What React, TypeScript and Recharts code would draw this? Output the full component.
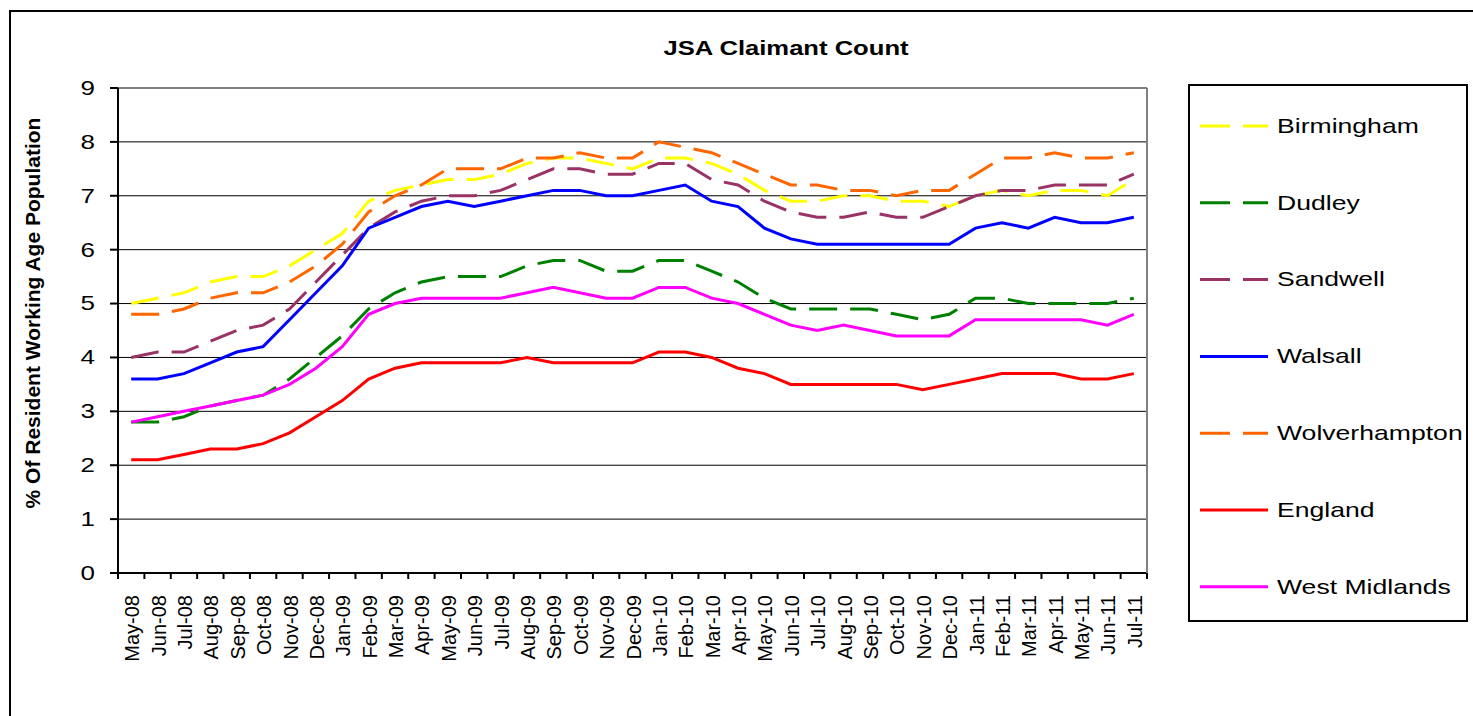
import { LineChart, Line, XAxis, YAxis, CartesianGrid } from 'recharts';

const months = [
  'May-08', 'Jun-08', 'Jul-08', 'Aug-08', 'Sep-08', 'Oct-08', 'Nov-08', 'Dec-08',
  'Jan-09', 'Feb-09', 'Mar-09', 'Apr-09', 'May-09', 'Jun-09', 'Jul-09', 'Aug-09',
  'Sep-09', 'Oct-09', 'Nov-09', 'Dec-09', 'Jan-10', 'Feb-10', 'Mar-10', 'Apr-10',
  'May-10', 'Jun-10', 'Jul-10', 'Aug-10', 'Sep-10', 'Oct-10', 'Nov-10', 'Dec-10',
  'Jan-11', 'Feb-11', 'Mar-11', 'Apr-11', 'May-11', 'Jun-11', 'Jul-11',
];

const birmingham = [5.0, 5.1, 5.2, 5.4, 5.5, 5.5, 5.7, 6.0, 6.3, 6.9, 7.1, 7.2, 7.3, 7.3, 7.4, 7.6, 7.7, 7.7, 7.6, 7.5, 7.7, 7.7, 7.6, 7.4, 7.1, 6.9, 6.9, 7.0, 7.0, 6.9, 6.9, 6.8, 7.0, 7.1, 7.0, 7.1, 7.1, 7.0, 7.3];
const dudley = [2.8, 2.8, 2.9, 3.1, 3.2, 3.3, 3.6, 4.0, 4.4, 4.9, 5.2, 5.4, 5.5, 5.5, 5.5, 5.7, 5.8, 5.8, 5.6, 5.6, 5.8, 5.8, 5.6, 5.4, 5.1, 4.9, 4.9, 4.9, 4.9, 4.8, 4.7, 4.8, 5.1, 5.1, 5.0, 5.0, 5.0, 5.0, 5.1];
const sandwell = [4.0, 4.1, 4.1, 4.3, 4.5, 4.6, 4.9, 5.4, 5.9, 6.4, 6.7, 6.9, 7.0, 7.0, 7.1, 7.3, 7.5, 7.5, 7.4, 7.4, 7.6, 7.6, 7.3, 7.2, 6.9, 6.7, 6.6, 6.6, 6.7, 6.6, 6.6, 6.8, 7.0, 7.1, 7.1, 7.2, 7.2, 7.2, 7.4];
const walsall = [3.6, 3.6, 3.7, 3.9, 4.1, 4.2, 4.7, 5.2, 5.7, 6.4, 6.6, 6.8, 6.9, 6.8, 6.9, 7.0, 7.1, 7.1, 7.0, 7.0, 7.1, 7.2, 6.9, 6.8, 6.4, 6.2, 6.1, 6.1, 6.1, 6.1, 6.1, 6.1, 6.4, 6.5, 6.4, 6.6, 6.5, 6.5, 6.6];
const wolverhampton = [4.8, 4.8, 4.9, 5.1, 5.2, 5.2, 5.4, 5.7, 6.1, 6.7, 7.0, 7.2, 7.5, 7.5, 7.5, 7.7, 7.7, 7.8, 7.7, 7.7, 8.0, 7.9, 7.8, 7.6, 7.4, 7.2, 7.2, 7.1, 7.1, 7.0, 7.1, 7.1, 7.4, 7.7, 7.7, 7.8, 7.7, 7.7, 7.8];
const england = [2.1, 2.1, 2.2, 2.3, 2.3, 2.4, 2.6, 2.9, 3.2, 3.6, 3.8, 3.9, 3.9, 3.9, 3.9, 4.0, 3.9, 3.9, 3.9, 3.9, 4.1, 4.1, 4.0, 3.8, 3.7, 3.5, 3.5, 3.5, 3.5, 3.5, 3.4, 3.5, 3.6, 3.7, 3.7, 3.7, 3.6, 3.6, 3.7];
const westMidlands = [2.8, 2.9, 3.0, 3.1, 3.2, 3.3, 3.5, 3.8, 4.2, 4.8, 5.0, 5.1, 5.1, 5.1, 5.1, 5.2, 5.3, 5.2, 5.1, 5.1, 5.3, 5.3, 5.1, 5.0, 4.8, 4.6, 4.5, 4.6, 4.5, 4.4, 4.4, 4.4, 4.7, 4.7, 4.7, 4.7, 4.7, 4.6, 4.8];

const yTicks = [0, 1, 2, 3, 4, 5, 6, 7, 8, 9];

const series = [
  { name: 'Birmingham', values: birmingham, color: '#FFFF00', dashed: true },
  { name: 'Dudley', values: dudley, color: '#008000', dashed: true },
  { name: 'Sandwell', values: sandwell, color: '#993366', dashed: true },
  { name: 'Walsall', values: walsall, color: '#0000FF', dashed: false },
  { name: 'Wolverhampton', values: wolverhampton, color: '#FF6600', dashed: true },
  { name: 'England', values: england, color: '#FF0000', dashed: false },
  { name: 'West Midlands', values: westMidlands, color: '#FF00FF', dashed: false },
];

const data = months.map((month, i) => {
  const row: Record<string, string | number> = { month };
  series.forEach((s) => {
    row[s.name] = s.values[i];
  });
  return row;
});

// layout (px)
const W = 1473;
const H = 716;
const PLOT_LEFT = 118;
const PLOT_TOP = 88;
const PLOT_RIGHT = 1147;
const PLOT_BOTTOM = 573;
const HALF_BAND = (PLOT_RIGHT - PLOT_LEFT) / months.length / 2;
const FONT = 'Arial, "Liberation Sans", sans-serif';
const DASH = '28 13';

const XTick = (props: any) => {
  const { x, payload, index } = props;
  return (
    <g>
      <line x1={x - HALF_BAND} x2={x - HALF_BAND} y1={PLOT_BOTTOM} y2={PLOT_BOTTOM + 6} stroke="#000" strokeWidth={2} />
      {index === months.length - 1 && (
        <line x1={x + HALF_BAND} x2={x + HALF_BAND} y1={PLOT_BOTTOM} y2={PLOT_BOTTOM + 6} stroke="#000" strokeWidth={2} />
      )}
      <text
        transform={`translate(${x + 1},${PLOT_BOTTOM + 22}) rotate(-90)`}
        textAnchor="end"
        dominantBaseline="central"
        fontSize={20}
        fontFamily={FONT}
        fill="#000"
      >
        {payload.value}
      </text>
    </g>
  );
};

const YTick = (props: any) => {
  const { y, payload } = props;
  return (
    <text
      transform={`translate(95,${y}) scale(1.3,1)`}
      textAnchor="end"
      dominantBaseline="central"
      fontSize={20}
      fontFamily={FONT}
      fill="#000"
    >
      {payload.value}
    </text>
  );
};

function ChartLegend() {
  return (
    <div
      style={{
        position: 'absolute',
        left: 1188,
        top: 84,
        width: 276,
        height: 534,
        border: '2px solid #000',
        background: '#fff',
      }}
    >
      <svg width={276} height={534}>
        {series.map((s, i) => {
          const y = 40 + i * 76.8;
          return (
            <g key={s.name}>
              <line
                x1={10}
                x2={78}
                y1={y}
                y2={y}
                stroke={s.color}
                strokeWidth={3}
                strokeDasharray={s.dashed ? '30 13' : undefined}
              />
              <text
                transform={`translate(87,${y}) scale(1.33,1)`}
                dominantBaseline="central"
                fontSize={20}
                fontFamily={FONT}
                fill="#000"
              >
                {s.name}
              </text>
            </g>
          );
        })}
      </svg>
    </div>
  );
}

export default function App() {
  return (
    <div
      style={{
        position: 'absolute',
        left: 0,
        top: 0,
        width: W,
        height: H,
        overflow: 'hidden',
        background: '#fff',
        fontFamily: FONT,
      }}
    >
      <div
        style={{
          position: 'absolute',
          left: 9,
          top: 10,
          width: 1600,
          height: 900,
          border: '2px solid #000',
        }}
      />
      <svg width={W} height={H} style={{ position: 'absolute', left: 0, top: 0 }}>
        <text
          transform="translate(786,55) scale(1.28,1)"
          textAnchor="middle"
          fontSize={20}
          fontWeight="bold"
          fontFamily={FONT}
          fill="#000"
        >
          JSA Claimant Count
        </text>
        <text
          transform="translate(32,313) rotate(-90)"
          textAnchor="middle"
          dominantBaseline="central"
          fontSize={21}
          fontWeight="bold"
          fontFamily={FONT}
          fill="#000"
        >
          % Of Resident Working Age Population
        </text>
      </svg>
      <div style={{ position: 'absolute', left: 0, top: 0 }}>
        <LineChart
          width={W}
          height={H}
          data={data}
          margin={{ top: PLOT_TOP - 10, right: W - PLOT_RIGHT - 10, bottom: H - PLOT_BOTTOM - 100, left: PLOT_LEFT - 60 }}
        >
          <CartesianGrid horizontal vertical={false} stroke="#000" strokeWidth={1} />
          <XAxis
            dataKey="month"
            interval={0}
            height={100}
            padding={{ left: HALF_BAND, right: HALF_BAND }}
            axisLine={{ stroke: '#000', strokeWidth: 2 }}
            tickLine={false}
            tick={<XTick />}
          />
          <XAxis
            xAxisId="top"
            dataKey="month"
            orientation="top"
            height={10}
            axisLine={{ stroke: '#808080', strokeWidth: 2 }}
            tickLine={false}
            tick={false}
          />
          <YAxis
            domain={[0, 9]}
            ticks={yTicks}
            interval={0}
            width={60}
            tickSize={8}
            axisLine={{ stroke: '#000', strokeWidth: 2 }}
            tickLine={{ stroke: '#000', strokeWidth: 2 }}
            tick={<YTick />}
          />
          <YAxis
            yAxisId="right"
            orientation="right"
            domain={[0, 9]}
            ticks={yTicks}
            width={10}
            axisLine={{ stroke: '#808080', strokeWidth: 2 }}
            tickLine={false}
            tick={false}
          />
          {series.map((s) => (
            <Line
              key={s.name}
              type="linear"
              dataKey={s.name}
              stroke={s.color}
              strokeWidth={3}
              strokeDasharray={s.dashed ? DASH : undefined}
              dot={false}
              activeDot={false}
              isAnimationActive={false}
            />
          ))}
        </LineChart>
      </div>
      <ChartLegend />
    </div>
  );
}
